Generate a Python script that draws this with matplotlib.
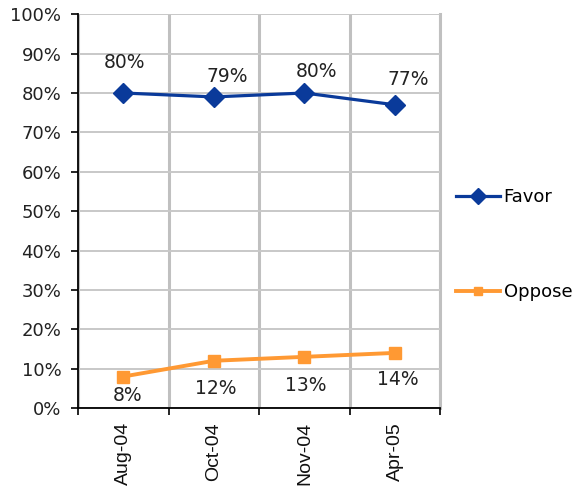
import matplotlib.pyplot as plt
from matplotlib.ticker import FixedLocator, PercentFormatter

# data
months = ['Aug-04', 'Oct-04', 'Nov-04', 'Apr-05']
favor = [80, 79, 80, 77]
oppose = [8, 12, 13, 14]

fig = plt.figure(figsize=(5.74, 4.91), dpi=100)
ax = fig.add_axes([0.136, 0.169, 0.631, 0.802])

x = list(range(len(months)))
ax.plot(x, favor, color='#0a3a9a', lw=2.3, marker='D', ms=10.5, label='Favor', zorder=3)
ax.plot(x, oppose, color='#ff9933', lw=2.8, marker='s', ms=8, label='Oppose', zorder=3)

# data labels (pixel offsets as placed in the original)
fav_off = [(1, 30), (13, 20), (12, 21), (13, 25)]
for i, v in enumerate(favor):
    ax.annotate(f'{v}%', (i, v), xytext=fav_off[i], textcoords='offset pixels',
                ha='center', va='center', fontsize=13.5, color='#222222')
opp_off = [(4, -19), (2, -28), (1, -29), (3, -27)]
for i, v in enumerate(oppose):
    ax.annotate(f'{v}%', (i, v), xytext=opp_off[i], textcoords='offset pixels',
                ha='center', va='center', fontsize=13.5, color='#222222')

ax.set_xlim(-0.5, len(months) - 0.5)
ax.set_ylim(0, 100)
ax.set_yticks(range(0, 101, 10))
ax.yaxis.set_major_formatter(PercentFormatter(decimals=0))

# tick marks at category boundaries, labels at centres
ax.xaxis.set_major_locator(FixedLocator([i - 0.5 for i in range(len(months) + 1)]))
ax.xaxis.set_minor_locator(FixedLocator(x))
ax.set_xticklabels([''] * (len(months) + 1))
ax.set_xticklabels(months, minor=True, rotation=90, fontsize=14,
                   family='Liberation Sans', color='#111111')
ax.tick_params(axis='x', which='major', length=5, width=1.2, direction='out')
ax.tick_params(axis='x', which='minor', length=0, pad=10)
ax.tick_params(axis='y', length=5, width=1.2, direction='out', labelsize=13,
               labelcolor='#222222', pad=7)

ax.set_axisbelow(True)
ax.yaxis.grid(True, color='#c8c8c8', lw=1.4)
ax.xaxis.grid(True, which='major', color='#c0c0c0', lw=2.2)

ax.spines['top'].set_visible(False)
ax.spines['right'].set_color('#c0c0c0')
ax.spines['right'].set_linewidth(2.2)
ax.spines['right'].set_zorder(0.5)
ax.spines['left'].set_linewidth(1.3)
ax.spines['bottom'].set_linewidth(1.3)

fig.legend(loc='center left', bbox_to_anchor=(0.778, 0.502), frameon=False,
           fontsize=13, labelspacing=4.27, handlelength=2.44, handletextpad=0.22,
           borderpad=0, markerscale=0.8)

fig.savefig('out.png')
